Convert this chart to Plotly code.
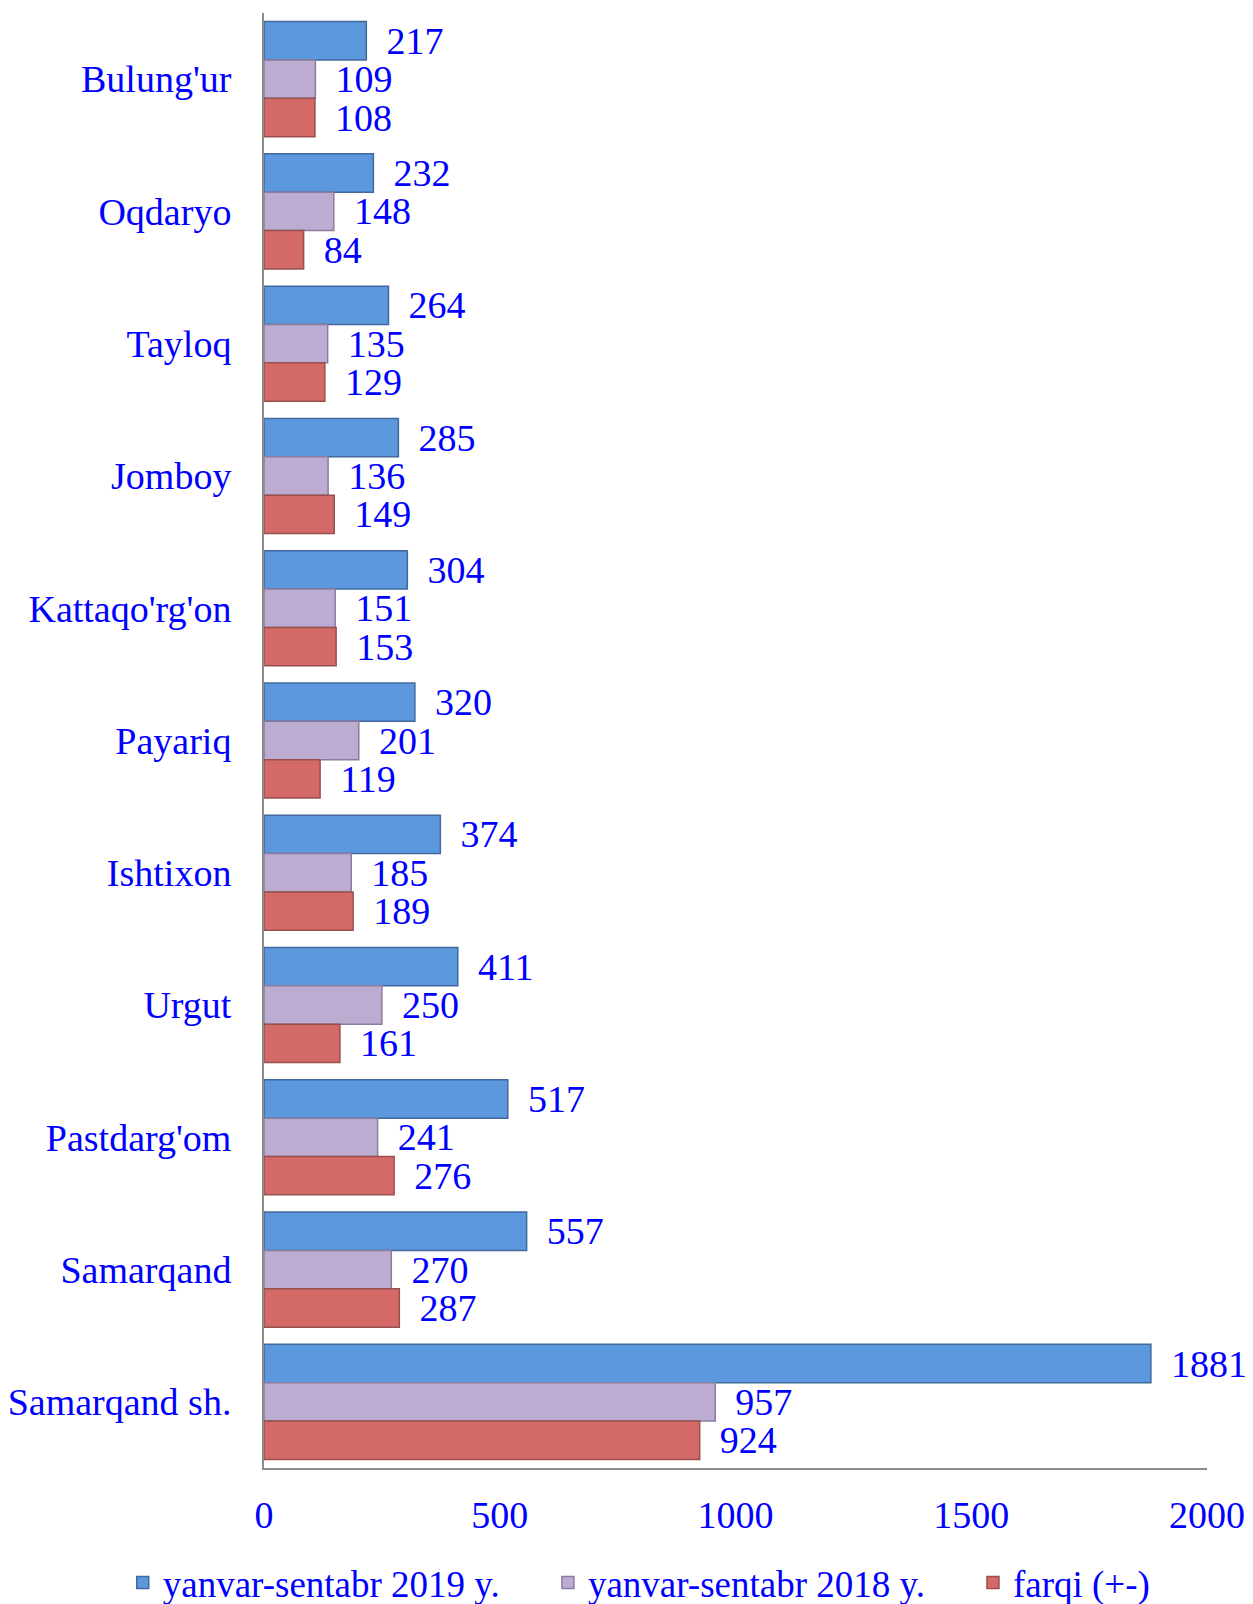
import plotly.graph_objects as go

categories = ["Bulung'ur", "Oqdaryo", "Tayloq", "Jomboy", "Kattaqo'rg'on", "Payariq",
              "Ishtixon", "Urgut", "Pastdarg'om", "Samarqand", "Samarqand sh."]
y2019 = [217, 232, 264, 285, 304, 320, 374, 411, 517, 557, 1881]
y2018 = [109, 148, 135, 136, 151, 201, 185, 250, 241, 270, 957]
diff = [108, 84, 129, 149, 153, 119, 189, 161, 276, 287, 924]
series_names = ["yanvar-sentabr 2019 y.", "yanvar-sentabr 2018 y.", "farqi (+-)"]
x_ticks = [0, 500, 1000, 1500, 2000]

colors = ["#5C98DE", "#BDACD2", "#D46A68"]
edges = ["#41699C", "#8A7C9E", "#97504E"]
legend_ids = ["legend", "legend2", "legend3"]
legend_x = [-0.1498, 0.3011, 0.7518]
FONT = "Liberation Serif, Times New Roman, serif"
BLUE = "#0000FF"

fig = go.Figure()
for name, vals, c, e, lid in zip(series_names, [y2019, y2018, diff], colors, edges, legend_ids):
    fig.add_trace(go.Bar(
        y=categories, x=vals, name=name, orientation="h", legend=lid,
        marker=dict(color=c, line=dict(color=e, width=1.5)),
        text=vals, texttemplate=" \u2009%{x}", textposition="outside",
        textfont=dict(family=FONT, size=38, color=BLUE),
        constraintext="none", cliponaxis=False,
    ))

legend_common = dict(orientation="h", xanchor="left", y=-115 / 1455, yanchor="middle",
                     font=dict(family=FONT, size=37, color=BLUE), itemwidth=30,
                     bgcolor="rgba(0,0,0,0)")

# page body has an 8px default margin; figure sized/offset to compensate
fig.update_layout(
    width=1245, height=1596,
    margin=dict(l=256, r=46, t=5, b=136, autoexpand=False),
    paper_bgcolor="white", plot_bgcolor="white",
    barmode="group", bargap=0.13, bargroupgap=0,
    font=dict(family=FONT, size=38, color=BLUE),
    showlegend=True,
    legend=dict(x=legend_x[0], **legend_common),
    legend2=dict(x=legend_x[1], **legend_common),
    legend3=dict(x=legend_x[2], **legend_common),
    xaxis=dict(range=[0, 2000], tickvals=x_ticks, showgrid=False, zeroline=False,
               showline=True, linecolor="#8C8C8C", linewidth=2, automargin=False,
               ticks="outside", ticklen=12, tickcolor="rgba(0,0,0,0)",
               tickfont=dict(family=FONT, size=38, color=BLUE)),
    yaxis=dict(autorange="reversed", showgrid=False, zeroline=False,
               showline=True, linecolor="#8C8C8C", linewidth=2, automargin=False,
               ticks="outside", ticklen=23, tickcolor="rgba(0,0,0,0)",
               tickfont=dict(family=FONT, size=38, color=BLUE)),
)

fig.write_html("out.html")
